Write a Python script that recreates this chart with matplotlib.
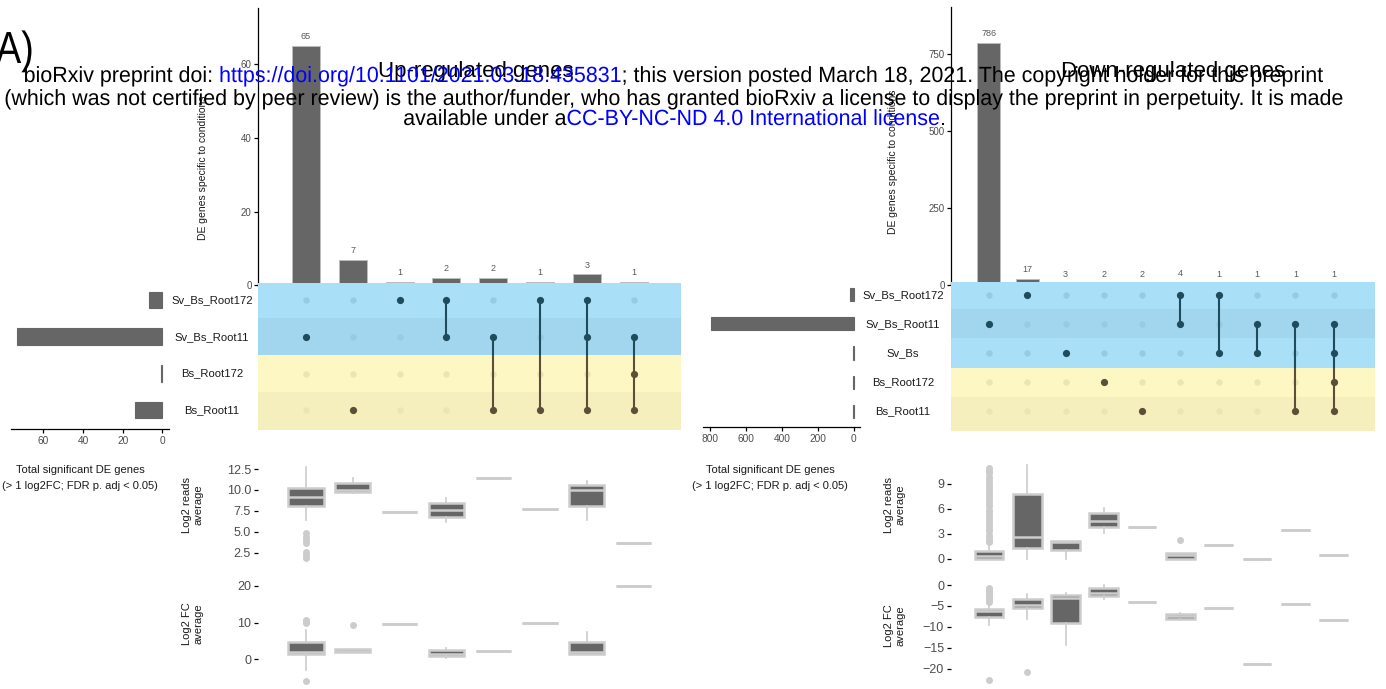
import matplotlib
matplotlib.use("Agg")
import matplotlib.pyplot as plt
import numpy as np
from matplotlib import font_manager as fm
from matplotlib.textpath import TextPath
from matplotlib.patches import PathPatch
from matplotlib.font_manager import FontProperties
from matplotlib.transforms import Affine2D

# ---------------- data ----------------
up_sets = ["Sv_Bs_Root172", "Sv_Bs_Root11", "Bs_Root172", "Bs_Root11"]
up_counts = [65, 7, 1, 2, 2, 1, 3, 1]
up_members = [[1], [3], [0], [0, 1], [1, 3], [0, 3], [0, 1, 3], [1, 2, 3]]
up_set_sizes = [7, 73, 1, 14]

down_sets = ["Sv_Bs_Root172", "Sv_Bs_Root11", "Sv_Bs", "Bs_Root172", "Bs_Root11"]
down_counts = [786, 17, 3, 2, 2, 4, 1, 1, 1, 1]
down_members = [[1], [0], [2], [3], [4], [0, 1], [0, 2], [1, 2], [1, 4], [1, 2, 3, 4]]
down_set_sizes = [22, 793, 6, 3, 4]

# boxplot summaries (Log2 reads average), up-regulated
up_reads_q1 = [8.07, 9.8, 7.4, 6.8, 11.4, 7.7, 8.1, 3.7]
up_reads_med = [9.19, 10.03, 7.4, 7.6, 11.4, 7.7, 10.0, 3.7]
up_reads_q3 = [10.26, 10.86, 7.4, 8.4, 11.4, 7.7, 10.55, 3.7]
up_reads_lo = [6.4, 9.6, 7.4, 6.2, 11.4, 7.7, 6.4, 3.7]
up_reads_hi = [12.8, 11.4, 7.4, 9.0, 11.4, 7.7, 11.1, 3.7]
up_reads_fliers = [[4.8, 4.4, 4.0, 3.6, 2.6, 2.2, 1.9], [], [], [], [], [], [], []]

# Log2 FC average, up-regulated
up_fc_q1 = [1.44, 2.0, 9.6, 0.9, 2.2, 10.0, 1.44, 20.0]
up_fc_med = [2.07, 2.3, 9.6, 1.5, 2.2, 10.0, 1.9, 20.0]
up_fc_q3 = [4.8, 2.7, 9.6, 2.5, 2.2, 10.0, 4.8, 20.0]
up_fc_lo = [-2.9, 2.0, 9.6, 0.3, 2.2, 10.0, 1.44, 20.0]
up_fc_hi = [8.0, 2.7, 9.6, 3.2, 2.2, 10.0, 7.5, 20.0]
up_fc_fliers = [[10.6, 10.2, 9.8, -5.8], [9.3], [], [], [], [], [], []]

# Log2 reads average, down-regulated
down_reads_q1 = [0.0, 1.25, 1.05, 3.78, 3.86, 0.0, 1.65, 0.0, 3.46, 0.48]
down_reads_med = [0.3, 2.6, 2.05, 4.58, 3.86, 0.4, 1.65, 0.0, 3.46, 0.48]
down_reads_q3 = [0.96, 7.76, 2.17, 5.47, 3.86, 0.65, 1.65, 0.0, 3.46, 0.48]
down_reads_lo = [0.0, 0.0, 0.0, 3.1, 3.86, 0.0, 1.65, 0.0, 3.46, 0.48]
down_reads_hi = [1.9, 11.3, 2.17, 6.1, 3.86, 0.65, 1.65, 0.0, 3.46, 0.48]
down_reads_fliers = [[2.0, 2.3, 2.6, 2.9, 3.3, 3.6, 3.9, 4.3, 4.6, 4.9, 5.3, 5.6, 5.9,
                      6.3, 6.6, 6.9, 7.3, 7.6, 7.9, 8.3, 8.6, 8.9, 9.3, 9.6, 9.9,
                      10.3, 10.6, 10.9],
                     [], [], [], [], [2.25], [], [], [], []]

# Log2 FC average, down-regulated
down_fc_q1 = [-7.58, -5.6, -9.0, -2.6, -4.15, -8.05, -5.6, -18.9, -4.6, -8.4]
down_fc_med = [-6.2, -4.8, -3.1, -1.84, -4.15, -7.4, -5.6, -18.9, -4.6, -8.4]
down_fc_q3 = [-5.74, -3.35, -2.3, -0.8, -4.15, -6.9, -5.6, -18.9, -4.6, -8.4]
down_fc_lo = [-9.6, -8.2, -14.4, -3.4, -4.15, -8.3, -5.6, -18.9, -4.6, -8.4]
down_fc_hi = [-4.4, -2.15, -2.0, 0.0, -4.15, -6.6, -5.6, -18.9, -4.6, -8.4]
down_fc_fliers = [[-0.6, -1.0, -1.4, -1.8, -2.2, -2.6, -3.0, -3.4, -3.8, -4.1, -22.6],
                  [-20.7], [], [], [], [], [], [], [], []]

# ---------------- style ----------------
avail = {f.name for f in fm.fontManager.ttflist}
BASE = "Liberation Sans" if "Liberation Sans" in avail else "DejaVu Sans"
plt.rcParams["font.family"] = [BASE, "DejaVu Sans"]

BAR = "#666666"
BAR_EDGE = "#bdbdbd"
BOX_EDGE = "#cccccc"
TICK_LAB = "#4d4d4d"
BLUE_L, BLUE_D = "#a9dff7", "#a1d6ee"
YEL_L, YEL_D = "#fdf7c4", "#f5eebd"
BLUE_IN, YEL_IN = "#96cbe4", "#ebe4b3"
BLUE_ACT, YEL_ACT = "#1e4c5c", "#5b4f37"

W, H = 1386, 689
fig = plt.figure(figsize=(W / 100, H / 100), dpi=100)


def add_ax(x0, y0, x1, y1, z=1):
    ax = fig.add_axes([x0 / W, 1 - y1 / H, (x1 - x0) / W, (y1 - y0) / H])
    ax.set_zorder(z)
    ax.patch.set_alpha(0)
    return ax


def ftext(x, y, s, **kw):
    return fig.text(x / W, 1 - y / H, s, **kw)


def draw_bars(ax, counts, xlim, ylim, yticks):
    x = np.arange(len(counts))
    ax.bar(x, counts, width=0.6, color=BAR, edgecolor=BAR_EDGE, linewidth=0.7)
    for xi, c in zip(x, counts):
        ax.annotate(str(c), (xi, c), xytext=(0, 3.5), textcoords="offset points",
                    ha="center", va="bottom", fontsize=6.5, color="#595959")
    ax.set_xlim(xlim)
    ax.set_ylim(ylim)
    for s in ("top", "right", "bottom"):
        ax.spines[s].set_visible(False)
    ax.spines["left"].set_linewidth(0.9)
    ax.set_xticks([])
    ax.set_yticks(yticks)
    ax.tick_params(axis="y", length=3, width=0.9, color="black", labelsize=7,
                   labelcolor=TICK_LAB, pad=1.5)


def draw_matrix(ax, nsets, members, n_blue, xlim, ylim):
    for i in range(nsets):
        if i < n_blue:
            col = BLUE_L if i % 2 == 0 else BLUE_D
        else:
            col = YEL_L if (i - n_blue) % 2 == 0 else YEL_D
        lo = i - 0.5 if i > 0 else -5
        hi = i + 0.5 if i < nsets - 1 else nsets + 5
        ax.axhspan(lo, hi, color=col, lw=0, zorder=0)
    bnd = n_blue - 0.5
    for j, mem in enumerate(members):
        for i in range(nsets):
            if i not in mem:
                ax.plot(j, i, "o", ms=4.6, color=BLUE_IN if i < n_blue else YEL_IN,
                        mec="none", zorder=1)
        if len(mem) > 1:
            lo, hi = min(mem), max(mem)
            if lo < n_blue:
                ax.plot([j, j], [lo, min(hi, bnd)], color=BLUE_ACT, lw=1.5, zorder=2,
                        solid_capstyle="butt")
            if hi > bnd:
                ax.plot([j, j], [max(lo, bnd), hi], color=YEL_ACT, lw=1.5, zorder=2,
                        solid_capstyle="butt")
        for i in mem:
            ax.plot(j, i, "o", ms=5.2, color=BLUE_ACT if i < n_blue else YEL_ACT,
                    mec="none", zorder=3)
    ax.set_xlim(xlim)
    ax.set_ylim(ylim)
    ax.axis("off")


def draw_setsize(ax, sizes, xlim, ylim, xticks):
    ax.barh(np.arange(len(sizes)), sizes, height=0.45, color=BAR, edgecolor=BAR,
            linewidth=0.8)
    ax.set_xlim(xlim)
    ax.set_ylim(ylim)
    for s in ("top", "right", "left"):
        ax.spines[s].set_visible(False)
    ax.spines["bottom"].set_linewidth(0.9)
    ax.set_yticks([])
    ax.set_xticks(xticks)
    ax.tick_params(axis="x", length=3, width=0.9, color="black", labelsize=7.3,
                   labelcolor=TICK_LAB, pad=2)


def draw_box(ax, q1, med, q3, lo, hi, fliers, xlim, ylim, yticks, yticklabels):
    stats = [dict(med=m, q1=a, q3=b, whislo=l, whishi=h, fliers=f)
             for a, m, b, l, h, f in zip(q1, med, q3, lo, hi, fliers)]
    ax.bxp(stats, positions=list(range(len(stats))), widths=0.75, patch_artist=True,
           showcaps=False,
           boxprops=dict(facecolor=BAR, edgecolor=BOX_EDGE, linewidth=1.8),
           medianprops=dict(color=BOX_EDGE, linewidth=1.8, solid_capstyle="butt"),
           whiskerprops=dict(color=BOX_EDGE, linewidth=1.2),
           flierprops=dict(marker="o", markerfacecolor=BOX_EDGE, markeredgecolor="none",
                           markersize=5))
    ax.set_xlim(xlim)
    ax.set_ylim(ylim)
    for s in ax.spines.values():
        s.set_visible(False)
    ax.set_xticks([])
    ax.set_yticks(yticks)
    ax.set_yticklabels(yticklabels)
    ax.tick_params(axis="y", length=3, width=0.9, color="black", labelsize=9,
                   labelcolor=TICK_LAB, pad=2)


# ---------------- left panel (up-regulated) ----------------
lx = (-1.026, 8.013)
ax = add_ax(258, 8, 681, 286, z=1)
draw_bars(ax, up_counts, lx, (-0.14, 75.2), [0, 20, 40, 60])
up_rows = (3.53, -0.463)
ax = add_ax(258, 283, 681, 430, z=2)
draw_matrix(ax, len(up_sets), up_members, 2, lx, up_rows)
ax = add_ax(11, 283, 169, 429.5, z=2)
draw_setsize(ax, up_set_sizes, (76.2, -3.27), up_rows, [0, 20, 40, 60])
for i, name in enumerate(up_sets):
    ftext(212, 300 + 36.7 * i, name, ha="center", va="center", fontsize=8.1,
          color="#1a1a1a")
ax = add_ax(258, 462, 681, 566, z=1)
draw_box(ax, up_reads_q1, up_reads_med, up_reads_q3, up_reads_lo, up_reads_hi,
         up_reads_fliers, lx, (0.91, 13.34), [2.5, 5, 7.5, 10, 12.5],
         ["2.5", "5.0", "7.5", "10.0", "12.5"])
ax = add_ax(258, 578, 681, 686, z=1)
draw_box(ax, up_fc_q1, up_fc_med, up_fc_q3, up_fc_lo, up_fc_hi, up_fc_fliers,
         lx, (-7.29, 22.18), [0, 10, 20], ["0", "10", "20"])

ftext(203, 168, "DE genes specific to conditions", rotation=90, ha="center",
      va="center", fontsize=7.5, color="#1a1a1a")
ftext(80, 470, "Total significant DE genes", ha="center", va="center", fontsize=8,
      color="#1a1a1a")
ftext(80, 486, "(> 1 log2FC; FDR p. adj < 0.05)", ha="center", va="center",
      fontsize=8, color="#1a1a1a")
ftext(193, 505, "Log2 reads\naverage", rotation=90, ha="center", va="center",
      fontsize=8, color="#1a1a1a", multialignment="center")
ftext(193, 624, "Log2 FC\naverage", rotation=90, ha="center", va="center",
      fontsize=8, color="#1a1a1a", multialignment="center")
ftext(476, 77, "Up-regulated genes", ha="center", va="baseline", fontsize=16,
      color="black", zorder=9)

# ---------------- right panel (down-regulated) ----------------
rx = (-0.99, 10.08)
ax = add_ax(951, 7, 1375, 285, z=1)
draw_bars(ax, down_counts, rx, (-1.6, 903), [0, 250, 500, 750])
down_rows = (4.676, -0.436)
ax = add_ax(951, 282, 1375, 431, z=2)
draw_matrix(ax, len(down_sets), down_members, 3, rx, down_rows)
ax = add_ax(703, 282, 860, 427, z=2)
draw_setsize(ax, down_set_sizes, (839, -35.7), (4.539, -0.436),
             [0, 200, 400, 600, 800])
for i, name in enumerate(down_sets):
    ftext(903, 294.7 + 29.15 * i, name, ha="center", va="center", fontsize=8.1,
          color="#1a1a1a")
ax = add_ax(951, 462, 1375, 563, z=1)
draw_box(ax, down_reads_q1, down_reads_med, down_reads_q3, down_reads_lo,
         down_reads_hi, down_reads_fliers, rx, (-0.52, 11.65), [0, 3, 6, 9],
         ["0", "3", "6", "9"])
ax = add_ax(951, 581, 1375, 684, z=1)
draw_box(ax, down_fc_q1, down_fc_med, down_fc_q3, down_fc_lo, down_fc_hi,
         down_fc_fliers, rx, (-23.66, 0.96), [-20, -15, -10, -5, 0],
         ["\u221220", "\u221215", "\u221210", "\u22125", "0"])

ftext(893, 162, "DE genes specific to conditions", rotation=90, ha="center",
      va="center", fontsize=7.5, color="#1a1a1a")
ftext(770, 470, "Total significant DE genes", ha="center", va="center", fontsize=8,
      color="#1a1a1a")
ftext(770, 486, "(> 1 log2FC; FDR p. adj < 0.05)", ha="center", va="center",
      fontsize=8, color="#1a1a1a")
ftext(894.5, 505, "Log2 reads\naverage", rotation=90, ha="center", va="center",
      fontsize=8, color="#1a1a1a", multialignment="center")
ftext(894.5, 626, "Log2 FC\naverage", rotation=90, ha="center", va="center",
      fontsize=8, color="#1a1a1a", multialignment="center")
ftext(1173, 77, "Down-regulated genes", ha="center", va="baseline", fontsize=16,
      color="black", zorder=9)

# ---------------- condensed text (panel letter + bioRxiv watermark) ----------------
prop = FontProperties(family=BASE)


def tpath(s, size):
    return TextPath((0, 0), s, size=size, prop=prop)


def advance(s, size):
    if not s:
        return 0.0
    return tpath(s + "x", size).get_extents().x1 - tpath("x", size).get_extents().x1


def condensed(s, x_left, baseline, size, sx, color, z=10):
    p = tpath(s, size)
    patch = PathPatch(p, facecolor=color, lw=0, zorder=z,
                      transform=Affine2D().scale(sx, 1).translate(x_left, H - baseline))
    fig.add_artist(patch)


# panel letter "A)"
condensed("A)", -4, 63, 45, 0.84, "black", z=9)

wm_lines = [
    [("bioRxiv preprint doi: ", "black"),
     ("https://doi.org/10.1101/2021.03.18.435831", "blue"),
     ("; this version posted March 18, 2021. The copyright holder for this preprint",
      "black")],
    [("(which was not certified by peer review) is the author/funder, who has granted "
      "bioRxiv a license to display the preprint in perpetuity. It is made", "black")],
    [("available under a", "black"),
     ("CC-BY-NC-ND 4.0 International license", "blue"),
     (".", "black")],
]
wm_baselines = [82, 105, 125]
wm_center = 674
wm_target_width = 1298
WM_SIZE = 22

ext0 = tpath("".join(s for s, _ in wm_lines[0]), WM_SIZE).get_extents()
wm_sx = wm_target_width / (ext0.x1 - ext0.x0)
for line, b in zip(wm_lines, wm_baselines):
    full = "".join(s for s, _ in line)
    ext = tpath(full, WM_SIZE).get_extents()
    ox = wm_center - wm_sx * (ext.x0 + ext.x1) / 2
    prefix = ""
    for s, c in line:
        condensed(s, ox + wm_sx * advance(prefix, WM_SIZE), b, WM_SIZE, wm_sx, c)
        prefix += s

fig.savefig("out.png", dpi=100)
